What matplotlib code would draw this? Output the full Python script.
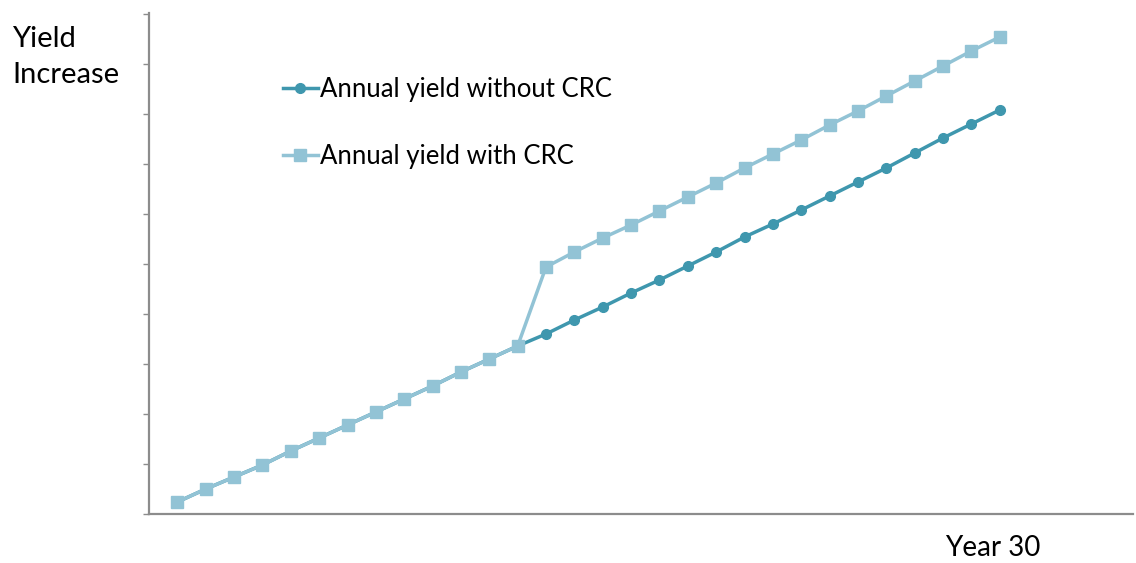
import matplotlib
matplotlib.use("Agg")
import matplotlib.pyplot as plt

# Yield index by year (arbitrary units, one per axis tick)
years = list(range(1, 31))
yield_without_crc = [0.24, 0.50, 0.74, 0.98, 1.26, 1.52, 1.78, 2.04, 2.30, 2.56,
                     2.84, 3.10, 3.36, 3.60, 3.88, 4.14, 4.42, 4.68, 4.96, 5.24,
                     5.54, 5.80, 6.08, 6.36, 6.64, 6.92, 7.22, 7.52, 7.80, 8.08]
yield_with_crc = [0.24, 0.50, 0.74, 0.98, 1.26, 1.52, 1.78, 2.04, 2.30, 2.56,
                  2.84, 3.10, 3.36, 4.94, 5.24, 5.52, 5.78, 6.06, 6.34, 6.62,
                  6.92, 7.20, 7.48, 7.78, 8.06, 8.36, 8.66, 8.96, 9.26, 9.54]
series_labels = ["Annual yield without CRC", "Annual yield with CRC"]
y_ticks = list(range(0, 11))

dark = "#3f97ae"
light = "#92c3d5"
grey = "#8c8c8c"
font = ["Lato", "DejaVu Sans"]

fig = plt.figure(figsize=(11.36, 5.63), dpi=100)
ax = fig.add_axes([149 / 1136, 49 / 563, (1133 - 149) / 1136, (514 - 13) / 563])

ax.plot(years, yield_without_crc, color=dark, lw=2.5, marker="o", ms=7,
        label=series_labels[0], zorder=2)
ax.plot(years, yield_with_crc, color=light, lw=2.5, marker="s", ms=8.5,
        label=series_labels[1], zorder=3)

ax.set_xlim(0.0, 34.7)
ax.set_ylim(0, 10.02)
ax.set_yticks(y_ticks)
ax.set_yticklabels([])
ax.set_xticks([])
ax.tick_params(axis="y", direction="out", length=4, width=1, color=grey)
for side in ("top", "right"):
    ax.spines[side].set_visible(False)
for side in ("left", "bottom"):
    ax.spines[side].set_color(grey)
    ax.spines[side].set_linewidth(1.6)

fig.text(12 / 1136, 1 - 57 / 563, "Yield\nIncrease", ha="left", va="center",
         fontsize=21, family=font, linespacing=1.48, color="black")
fig.text(993 / 1136, 1 - 548 / 563, "Year 30", ha="center", va="center",
         fontsize=20, family=font, color="black")

leg = fig.legend(loc="upper left", bbox_to_anchor=(283 / 1136, 1 - 77 / 563),
                 frameon=False, borderaxespad=0, borderpad=0,
                 handlelength=1.36, handletextpad=0.08,
                 labelspacing=1.62, prop={"family": font, "size": 18.5})
for t in leg.get_texts():
    t.set_color("black")

fig.savefig("out.png", dpi=100)
